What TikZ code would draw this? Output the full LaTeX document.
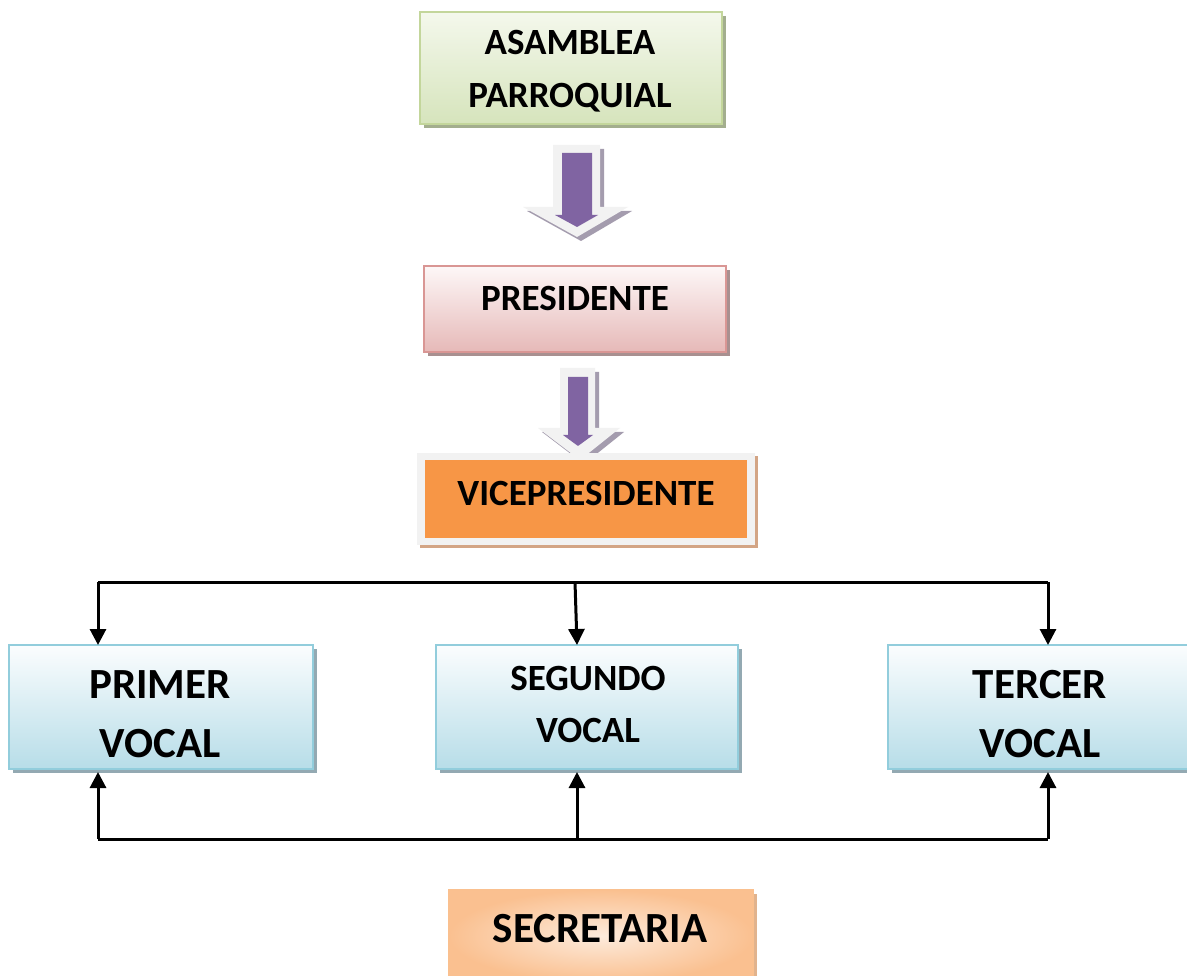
\documentclass[tikz,border=0pt]{standalone}
\usepackage{fontspec}
\setmainfont{Carlito}
\usetikzlibrary{arrows.meta,shadows}
\definecolor{grnTop}{HTML}{F4F8EC}
\definecolor{grnBot}{HTML}{D6E4BC}
\definecolor{grnBd}{HTML}{C3D69B}
\definecolor{grnSh}{HTML}{A3AE8E}
\definecolor{pnkTop}{HTML}{FDF7F7}
\definecolor{pnkBot}{HTML}{E6B9B8}
\definecolor{pnkBd}{HTML}{D99694}
\definecolor{pnkSh}{HTML}{A89090}
\definecolor{orng}{HTML}{F79646}
\definecolor{frameGray}{HTML}{F2F2F2}
\definecolor{tanSh}{HTML}{D3A585}
\definecolor{bluTop}{HTML}{FBFDFE}
\definecolor{bluBot}{HTML}{B7DDE8}
\definecolor{bluBd}{HTML}{92CDDC}
\definecolor{bluSh}{HTML}{93A9B2}
\definecolor{secIn}{HTML}{FDEBDC}
\definecolor{secOut}{HTML}{FAC090}
\definecolor{secBd}{HTML}{FAC08F}
\definecolor{purp}{HTML}{8064A2}
\definecolor{arrSh}{HTML}{A49CAE}
\tikzset{
  box/.style={draw, line width=2pt, anchor=north west, inner sep=0pt, outer sep=0pt},
  lbl/.style={anchor=base, inner sep=0pt, outer sep=0pt, align=center},
  conn/.style={line width=3pt, draw=black},
  arr/.style={conn, -{Triangle[width=16pt,length=16pt]}},
}
\begin{document}
\begin{tikzpicture}[x=1pt,y=-1pt]
\clip (0,0) rectangle (1187,976);
\fill[white] (0,0) rectangle (1187,976);

% ASAMBLEA PARROQUIAL
\node[box, draw=grnBd, top color=grnTop, bottom color=grnBot,
  drop shadow={shadow xshift=4pt, shadow yshift=-4pt, opacity=1, fill=grnSh},
  minimum width=302pt, minimum height=112pt] (asamBox) at (420,12) {};
\node[lbl, font=\fontsize{37}{53}\selectfont\bfseries] (asam) at (570,108) {ASAMBLEA\\PARROQUIAL};

% block arrow 1
\fill[arrSh] (557,149) -- (604,149) -- (604,211) -- (632,211) -- (581,241) -- (527,211) -- (557,211) -- cycle;
\fill[frameGray] (553,145) -- (600,145) -- (600,207) -- (628,207) -- (577,237) -- (523,207) -- (553,207) -- cycle;
\fill[purp] (562,153) -- (592,153) -- (592,215) -- (598,215) -- (577,227) -- (555,215) -- (562,215) -- cycle;

% PRESIDENTE
\node[box, draw=pnkBd, top color=pnkTop, bottom color=pnkBot,
  drop shadow={shadow xshift=4pt, shadow yshift=-4pt, opacity=1, fill=pnkSh},
  minimum width=302pt, minimum height=86pt] (presBox) at (424,266) {};
\node[lbl, font=\fontsize{37}{44}\selectfont\bfseries] (pres) at (575,311) {PRESIDENTE};

% block arrow 2
\fill[arrSh] (564,372) -- (599,372) -- (599,432) -- (624,432) -- (584,464) -- (542,432) -- (564,432) -- cycle;
\fill[frameGray] (560,368) -- (595,368) -- (595,428) -- (620,428) -- (580,460) -- (538,428) -- (560,428) -- cycle;
\fill[purp] (568,377) -- (588,377) -- (588,435) -- (593,435) -- (578,446) -- (563,435) -- (568,435) -- cycle;

% VICEPRESIDENTE
\fill[tanSh] (420,456) rectangle (758,548);
\fill[frameGray] (417,453) rectangle (755,545);
\fill[frameGray] (566,446) -- (592,446) -- (580,460) -- cycle;
\node[anchor=north west, fill=orng, inner sep=0pt, outer sep=0pt,
  minimum width=322pt, minimum height=78pt] (viceBox) at (425,460) {};
\node[lbl, font=\fontsize{37}{44}\selectfont\bfseries] (vice) at (586,505) {VICEPRESIDENTE};

% vocales
\node[box, draw=bluBd, top color=bluTop, bottom color=bluBot,
  drop shadow={shadow xshift=4pt, shadow yshift=-4pt, opacity=1, fill=bluSh},
  minimum width=304pt, minimum height=124pt] (primer) at (9,645) {};
\node[lbl, font=\fontsize{43}{59}\selectfont\bfseries] (primerT) at (160,757) {PRIMER\\VOCAL};
\node[box, draw=bluBd, top color=bluTop, bottom color=bluBot,
  drop shadow={shadow xshift=4pt, shadow yshift=-4pt, opacity=1, fill=bluSh},
  minimum width=302pt, minimum height=124pt] (segundo) at (436,645) {};
\node[lbl, font=\fontsize{37}{52}\selectfont\bfseries] (segundoT) at (588,742) {SEGUNDO\\VOCAL};
\node[box, draw=bluBd, top color=bluTop, bottom color=bluBot,
  drop shadow={shadow xshift=4pt, shadow yshift=-4pt, opacity=1, fill=bluSh},
  minimum width=302pt, minimum height=124pt] (tercer) at (888,645) {};
\node[lbl, font=\fontsize{43}{59}\selectfont\bfseries] (tercerT) at (1040,757) {TERCER\\VOCAL};

% SECRETARIA
\node[box, draw=secBd, inner color=secIn, outer color=secOut,
  drop shadow={shadow xshift=4pt, shadow yshift=-4pt, opacity=1, fill=secOut!80!gray},
  minimum width=304pt, minimum height=92pt] (secreBox) at (449,890) {};
\node[lbl, font=\fontsize{43}{50}\selectfont\bfseries] (secre) at (600,942) {SECRETARIA};

% top connectors
\coordinate (tl) at (98,582);
\coordinate (tm) at (575,582);
\coordinate (tr) at (1048,582);
\draw[conn] (tl) -- (tr);
\draw[arr] (tl) -- (tl |- primer.north);
\draw[arr] (tm) -- ([xshift=2pt]tm |- segundo.north);
\draw[arr] (tr) -- (tr |- tercer.north);

% bottom connectors
\coordinate (bl) at (98,839);
\coordinate (bm) at (577,839);
\coordinate (br) at (1048,839);
\draw[conn] (bl) -- (br);
\draw[arr] (bl) -- ([yshift=-3pt]bl |- primer.south);
\draw[arr] (bm) -- ([yshift=-3pt]bm |- segundo.south);
\draw[arr] (br) -- ([yshift=-3pt]br |- tercer.south);
\end{tikzpicture}
\end{document}
